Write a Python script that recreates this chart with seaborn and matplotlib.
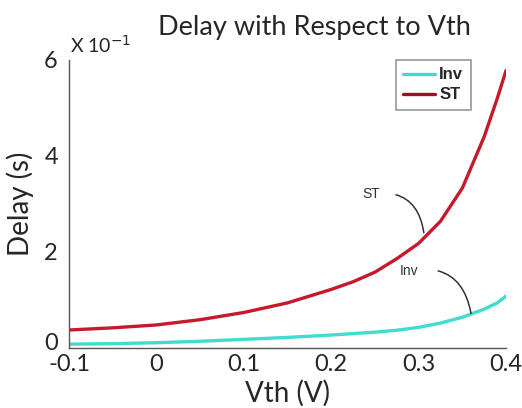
import numpy as np
import pandas as pd
import matplotlib
matplotlib.use("Agg")
import matplotlib.pyplot as plt
import matplotlib.transforms as mtransforms
from matplotlib.lines import Line2D
import seaborn as sns

# Data (Delay in units of 1e-1 s)
vth = [-0.1, -0.05, 0.0, 0.05, 0.1, 0.15, 0.2, 0.225, 0.25, 0.275, 0.3, 0.325, 0.35, 0.375, 0.39, 0.4]
inv_delay = [0.08, 0.09, 0.11, 0.14, 0.18, 0.22, 0.27, 0.30, 0.33, 0.37, 0.43, 0.52, 0.64, 0.81, 0.94, 1.08]
st_delay = [0.375, 0.42, 0.48, 0.59, 0.74, 0.94, 1.22, 1.38, 1.58, 1.86, 2.18, 2.64, 3.33, 4.4, 5.2, 5.78]
series_names = ["Inv", "ST"]
xticks = [-0.1, 0, 0.1, 0.2, 0.3, 0.4]
xtick_labels = ["-0.1", "0", "0.1", "0.2", "0.3", "0.4"]
yticks = [0, 2, 4, 6]
ytick_labels = ["0", "2", "4", "6"]

df = pd.DataFrame({
    "Vth": vth * 2,
    "Delay": inv_delay + st_delay,
    "Series": [series_names[0]] * len(vth) + [series_names[1]] * len(vth),
})

sns.set_style("white")
plt.rcParams["font.family"] = ["Lato", "DejaVu Sans"]

fig = plt.figure(figsize=(5.22, 4.08), dpi=100)
ax = fig.add_axes([69 / 522, 1 - 348 / 408, (506 - 69) / 522, (348 - 60) / 408])

palette = {"Inv": "#3fdccf", "ST": "#c8192c"}
sns.lineplot(data=df, x="Vth", y="Delay", hue="Series", palette=palette,
             linewidth=2.4, ax=ax, legend=False)

ax.set_xlim(-0.1, 0.4)
ax.set_ylim(0, 6)
ax.set_xticks(xticks)
ax.set_xticklabels(xtick_labels)
ax.set_yticks(yticks)
ax.set_yticklabels(ytick_labels)
ax.tick_params(axis="both", direction="in", length=3, width=0.8, color="#555555",
               labelsize=17, pad=4)
ax.tick_params(axis="y", pad=8)
for s in ["top", "right"]:
    ax.spines[s].set_visible(False)
for s in ["left", "bottom"]:
    ax.spines[s].set_color("#555555")
    ax.spines[s].set_linewidth(1.0)

# raise the "0" y tick label slightly, as in the reference
lab0 = ax.get_yticklabels()[0]
lab0.set_transform(lab0.get_transform() +
                   mtransforms.ScaledTranslation(0, 7 / 100, fig.dpi_scale_trans))

ax.set_xlabel("Vth (V)", fontsize=20, labelpad=4)
ax.set_ylabel("Delay (s)", fontsize=20, labelpad=7)

fig.text(314 / 522, 1 - 27 / 408, "Delay with Respect to Vth", fontsize=19.5,
         ha="center", va="center")
fig.text(70 / 522, 1 - 45 / 408, r"X 10$^{-1}$", fontsize=14,
         ha="left", va="center")

handles = [Line2D([], [], color=palette["Inv"], lw=2.4),
           Line2D([], [], color="#a01020", lw=2.4)]
leg = ax.legend(handles, series_names, loc="upper right",
                bbox_to_anchor=((474 - 69) / (506 - 69), 1.012),
                prop={"family": "Liberation Sans", "weight": "bold", "size": 12},
                handlelength=1.9, handletextpad=0.25, borderpad=0.45,
                labelspacing=0.3, borderaxespad=0.2,
                frameon=True, fancybox=False)
leg.get_frame().set_edgecolor("#888888")
leg.get_frame().set_linewidth(1.3)

ax.annotate("ST", xy=(0.306, 2.4), xytext=(0.246, 3.21),
            fontsize=10, family="Liberation Sans", color="#333333",
            ha="center", va="center",
            arrowprops=dict(arrowstyle="-", color="#333333", lw=1.1,
                            connectionstyle="arc3,rad=-0.5",
                            shrinkA=9, shrinkB=0))
ax.annotate("Inv", xy=(0.36, 0.72), xytext=(0.289, 1.61),
            fontsize=10, family="Liberation Sans", color="#333333",
            ha="center", va="center",
            arrowprops=dict(arrowstyle="-", color="#333333", lw=1.1,
                            connectionstyle="arc3,rad=-0.5",
                            shrinkA=12, shrinkB=0))

fig.savefig("out.png", dpi=100, facecolor="white")
